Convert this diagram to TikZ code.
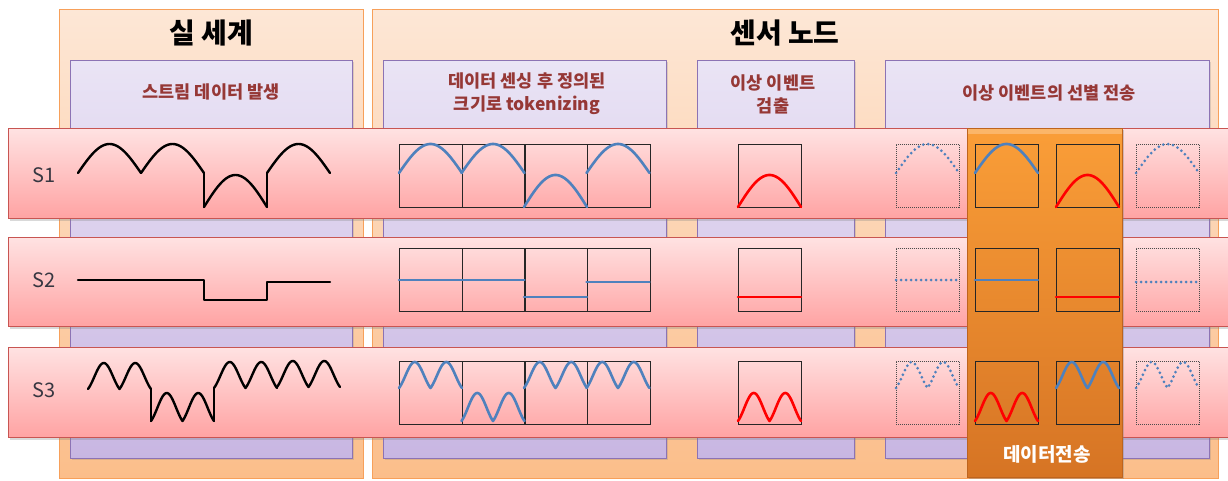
\documentclass[tikz,border=0pt]{standalone}
\usepackage{fontspec}
\setmainfont{Noto Sans CJK KR}
\usetikzlibrary{shadows}
\definecolor{outT}{RGB}{253,231,214}
\definecolor{outB}{RGB}{251,190,138}
\definecolor{outD}{RGB}{247,160,90}
\definecolor{purT}{RGB}{234,228,245}
\definecolor{purB}{RGB}{200,182,226}
\definecolor{purD}{RGB}{140,115,180}
\definecolor{pinkT}{RGB}{255,226,226}
\definecolor{pinkB}{RGB}{255,163,163}
\definecolor{pinkD}{RGB}{200,85,82}
\definecolor{colT}{RGB}{250,158,56}
\definecolor{colB}{RGB}{214,116,36}
\definecolor{colD}{RGB}{190,100,30}
\definecolor{labc}{RGB}{150,56,54}
\definecolor{sblue}{RGB}{79,129,189}
\definecolor{sred}{RGB}{255,0,0}
\definecolor{slab}{RGB}{55,55,65}
\newcommand\uarch[3]{\draw[#1] plot[domain=0:1,samples=40,smooth] ({#2+63*\x},{#3+29-29*sin(180*\x)});}
\newcommand\larch[3]{\draw[#1] plot[domain=0:1,samples=40,smooth] ({#2+63*\x},{#3+63-32*sin(180*\x)});}
\newcommand\uwave[3]{\draw[#1] plot[domain=0:1,samples=81] ({#2+63*\x},{#3+27-26*(0.5*abs(sin(360*\x))+0.5*sin(360*\x)^2)});}
\newcommand\lwave[3]{\draw[#1] plot[domain=0:1,samples=81] ({#2+63*\x},{#3+60-28*(0.5*abs(sin(360*\x))+0.5*sin(360*\x)^2)});}
\newcommand\lvl[3]{\draw[#1] (#2,#3) -- ++(63,0);}
\begin{document}
\begin{tikzpicture}[x=1pt,y=-1pt,
  outerbox/.style={draw=outD,line width=1pt,top color=outT,bottom color=outB,inner sep=0pt,anchor=north west},
  purbox/.style={draw=purD,line width=1pt,top color=purT,bottom color=purB,inner sep=0pt,anchor=north west,
     drop shadow={opacity=0.25,shadow xshift=1.5pt,shadow yshift=-1.5pt}},
  rowbox/.style={draw=pinkD,line width=1pt,top color=pinkT,bottom color=pinkB,inner sep=0pt,anchor=north west,
     drop shadow={opacity=0.3,shadow xshift=1.5pt,shadow yshift=-2pt}},
  colbox/.style={draw=colD,line width=0.8pt,top color=colT,bottom color=colB,inner sep=0pt,anchor=north west,
     drop shadow={opacity=0.35,shadow xshift=2pt,shadow yshift=-2pt}},
  tok/.style={draw=black!85,line width=1.3pt,minimum width=63pt,minimum height=63pt,inner sep=0pt,anchor=north west},
  dtok/.style={draw=black!70,line width=0.8pt,dash pattern=on 1pt off 1pt,minimum width=63pt,minimum height=63pt,inner sep=0pt,anchor=north west},
  title/.style={font=\fontsize{28}{32}\selectfont\bfseries},
  plabel/.style={font=\fontsize{17.5}{23}\selectfont\bfseries,text=labc,align=center},
  slabel/.style={font=\fontsize{20}{24}\selectfont,text=slab},
  raw/.style={draw=black,line width=2.4pt,line cap=round,line join=round},
  bl/.style={draw=sblue,line width=2.6pt,line cap=round,line join=round},
  rd/.style={draw=sred,line width=2.6pt,line cap=round,line join=round},
  bd/.style={draw=sblue,line width=3pt,line cap=round,dash pattern=on 0pt off 5pt}
]
\useasboundingbox (0,0) rectangle (1228,480);
\clip (0,0) rectangle (1228,480);
% outer boxes
\node[outerbox,minimum width=304pt,minimum height=469pt] (world) at (59,9) {};
\node[outerbox,minimum width=846pt,minimum height=469pt] (sensor) at (372,9) {};
\node[title] (tworld) at (211,33) {실 세계};
\node[title] (tsensor) at (785,33) {센서 노드};
% purple boxes
\node[purbox,minimum width=282pt,minimum height=398pt] (pgen) at (70,60) {};
\node[purbox,minimum width=283pt,minimum height=398pt] (ptok) at (383,60) {};
\node[purbox,minimum width=157pt,minimum height=398pt] (pdet) at (697,60) {};
\node[purbox,minimum width=324pt,minimum height=398pt] (psel) at (885,60) {};
\node[plabel] (lgen) at (211,92) {스트림 데이터 발생};
\node[plabel] (ltok) at (527,94) {데이터 센싱 후 정의된\\크기로 tokenizing};
\node[plabel] (ldet) at (773,94) {이상 이벤트\\검출};
\node[plabel] (lsel) at (1049,93) {이상 이벤트의 선별 전송};
% rows
\node[rowbox,minimum width=1240pt,minimum height=90pt] (r1) at (8,128) {};
\node[rowbox,minimum width=1240pt,minimum height=89pt] (r2) at (8,237) {};
\node[rowbox,minimum width=1240pt,minimum height=90pt] (r3) at (8,347) {};
\node[slabel] (s1) at (44,175) {S1};
\node[slabel] (s2) at (44,280) {S2};
\node[slabel] (s3) at (44,390) {S3};
% transmit column
\node[colbox,minimum width=155pt,minimum height=349pt] (col) at (967,128) {};
\fill[white,opacity=0.25] (967.5,128.5) rectangle (1121.5,134);
\node[font=\fontsize{19}{22}\selectfont\bfseries,text=white] (lcol) at (1047,454) {데이터전송};
% raw signals
\uarch{raw}{78}{144}
\uarch{raw}{141}{144}
\draw[raw] (204,173) -- (204,207);
\larch{raw}{204}{144}
\draw[raw] (267,207) -- (267,173);
\uarch{raw}{267}{144}
\draw[raw] (78,280) -- (204,280) -- (204,300) -- (267,300) -- (267,282) -- (330,282);
\uwave{raw}{88}{362}
\draw[raw] (151,389) -- (151,421);
\lwave{raw}{151}{361}
\draw[raw] (214,421) -- (214,388);
\uwave{raw}{214}{361}
\uwave{raw}{277}{360}
% row 1 tokens
\node[tok] (a1) at (399,144) {};
\node[tok] (a2) at (461.5,144) {};
\node[tok] (a3) at (524,144) {};
\node[tok] (a4) at (586.5,144) {};
\node[tok] (ad) at (738,144) {};
\node[dtok] (as1) at (896,144) {};
\node[tok] (as2) at (975,144) {};
\node[tok] (as3) at (1056,144) {};
\node[dtok] (as4) at (1136,144) {};
\uarch{bl}{399}{144}
\uarch{bl}{461.5}{144}
\larch{bl}{524}{144}
\uarch{bl}{586.5}{144}
\larch{rd}{738}{144}
\uarch{bd}{896}{144}
\uarch{bl}{975}{144}
\larch{rd}{1056}{144}
\uarch{bd}{1136}{144}
% row 2 tokens
\node[tok] (b1) at (399,248) {};
\node[tok] (b2) at (461.5,248) {};
\node[tok] (b3) at (524,248) {};
\node[tok] (b4) at (586.5,248) {};
\node[tok] (bd) at (738,248) {};
\node[dtok] (bs1) at (896,248) {};
\node[tok] (bs2) at (975,248) {};
\node[tok] (bs3) at (1056,248) {};
\node[dtok] (bs4) at (1136,248) {};
\lvl{bl}{399}{280}
\lvl{bl}{461.5}{280}
\lvl{bl}{524}{297}
\lvl{bl}{586.5}{282}
\lvl{rd}{738}{297}
\lvl{bd}{896}{280}
\lvl{bl}{975}{280}
\lvl{rd}{1056}{297}
\lvl{bd}{1136}{282}
% row 3 tokens
\node[tok] (c1) at (399,361) {};
\node[tok] (c2) at (461.5,361) {};
\node[tok] (c3) at (524,361) {};
\node[tok] (c4) at (586.5,361) {};
\node[tok] (cd) at (738,361) {};
\node[dtok] (cs1) at (896,361) {};
\node[tok] (cs2) at (975,361) {};
\node[tok] (cs3) at (1056,361) {};
\node[dtok] (cs4) at (1136,361) {};
\uwave{bl}{399}{361}
\lwave{bl}{461.5}{361}
\uwave{bl}{524}{361}
\uwave{bl}{586.5}{361}
\lwave{rd}{738}{361}
\uwave{bd}{896}{361}
\lwave{rd}{975}{361}
\uwave{bl}{1056}{361}
\uwave{bd}{1136}{361}
\end{tikzpicture}
\end{document}
